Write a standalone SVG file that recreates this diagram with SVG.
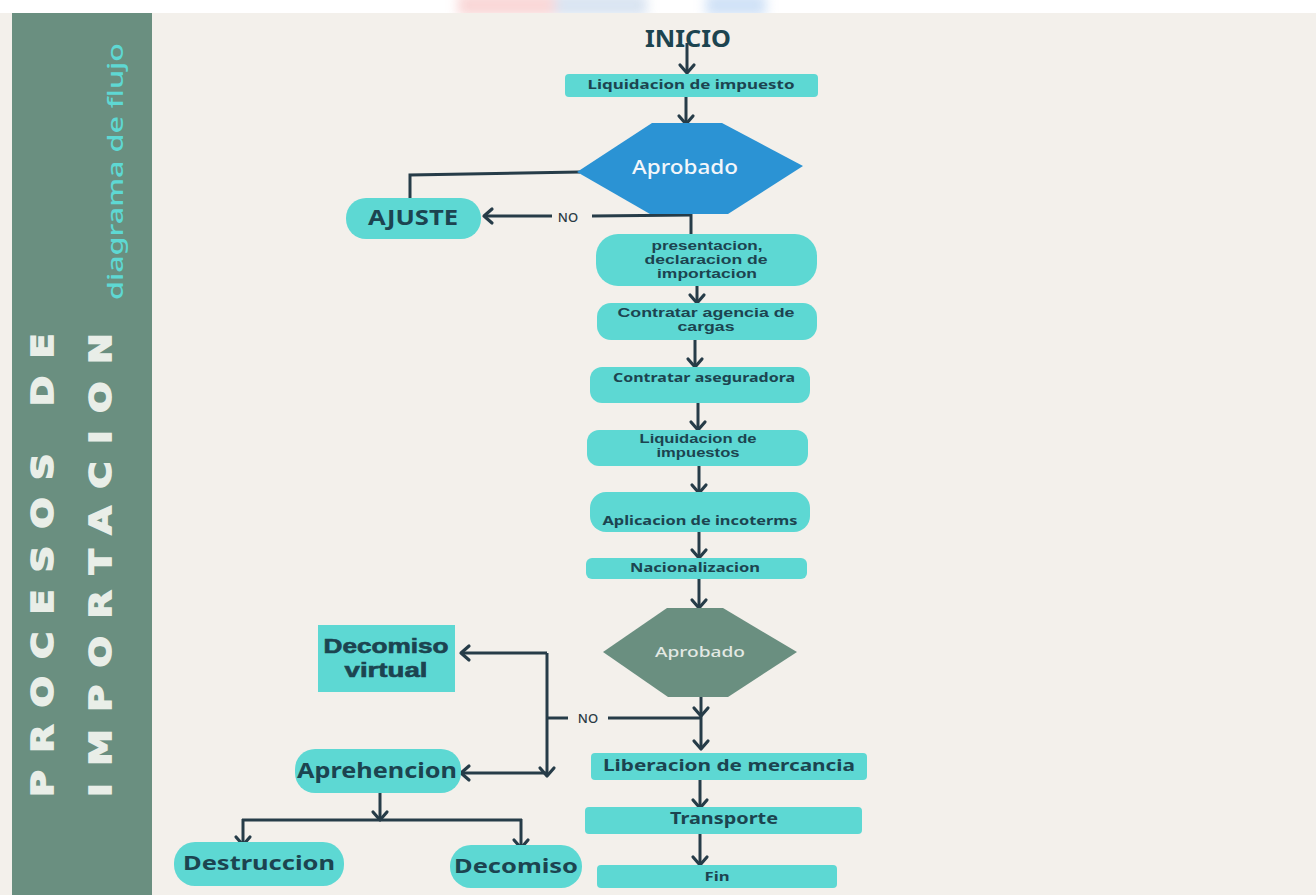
<svg xmlns="http://www.w3.org/2000/svg" width="1316" height="895" viewBox="0 0 1316 895">
<defs>
<style>
.box{fill:#5dd8d3}
.t{font-family:"Noto Sans","Open Sans",sans-serif;font-weight:700;fill:#1c4450;text-anchor:middle}
.s{font-family:"Liberation Sans",Arial,sans-serif;font-weight:700;fill:#1c4450;text-anchor:middle;font-size:12px}
.c{fill:none;stroke:#263c48;stroke-width:3}
.side{font-family:"DejaVu Sans","Noto Sans",sans-serif;font-weight:700;fill:#e9eee8;stroke:#e9eee8;stroke-width:1.6}
</style>
<marker id="ah" markerUnits="userSpaceOnUse" markerWidth="20" markerHeight="20" viewBox="0 0 20 20" refX="14" refY="10" orient="auto">
<path d="M6,3 L14,10 L6,17" fill="none" stroke="#263c48" stroke-width="3.2" stroke-linecap="round" stroke-linejoin="round"/>
</marker>
<filter id="blur"><feGaussianBlur stdDeviation="6"/></filter>
</defs>
<rect x="0" y="0" width="1316" height="895" fill="#ffffff"/>
<g filter="url(#blur)" opacity="0.55">
<rect x="458" y="-6" width="97" height="22" fill="#f4b5b5"/>
<rect x="555" y="-6" width="92" height="22" fill="#b9cde6"/>
<rect x="706" y="-6" width="60" height="22" fill="#a9c9f0"/>
</g>
<rect x="0" y="13" width="1316" height="882" fill="#f3f0eb"/>
<g id="sidebar">
<rect x="12" y="13" width="140" height="882" fill="#6a8f80"/>
<text class="side" transform="translate(53,797) rotate(-90) scale(1.22,1)" font-size="30" textLength="380" lengthAdjust="spacing">PROCESOS DE</text>
<text class="side" transform="translate(111,797) rotate(-90) scale(1.22,1)" font-size="30" textLength="380" lengthAdjust="spacing">IMPORTACION</text>
<text transform="translate(123,300) rotate(-90)" font-family="Noto Sans, Open Sans, sans-serif" font-weight="500" font-size="22" fill="#5ed8d3" textLength="257" lengthAdjust="spacingAndGlyphs">diagrama de flujo</text>
</g>
<g id="connectors">
<line class="c" x1="687" y1="43" x2="687" y2="73" marker-end="url(#ah)"/>
<line class="c" x1="686" y1="97" x2="686" y2="124" marker-end="url(#ah)"/>
<polyline class="c" points="580,172 410,175 410,198"/>
<line class="c" x1="692" y1="215" x2="592" y2="216"/>
<line class="c" x1="552" y1="216" x2="484" y2="216" marker-end="url(#ah)"/>
<line class="c" x1="691" y1="212" x2="691" y2="236"/>
<line class="c" x1="697" y1="285" x2="697" y2="303" marker-end="url(#ah)"/>
<line class="c" x1="695" y1="340" x2="695" y2="367" marker-end="url(#ah)"/>
<line class="c" x1="698" y1="403" x2="698" y2="430" marker-end="url(#ah)"/>
<line class="c" x1="699" y1="466" x2="699" y2="493" marker-end="url(#ah)"/>
<line class="c" x1="699" y1="532" x2="699" y2="558" marker-end="url(#ah)"/>
<line class="c" x1="699" y1="579" x2="699" y2="608" marker-end="url(#ah)"/>
<line class="c" x1="701" y1="688" x2="701" y2="716" marker-end="url(#ah)"/>
<line class="c" x1="701" y1="716" x2="701" y2="749" marker-end="url(#ah)"/>
<line class="c" x1="701" y1="718" x2="608" y2="718"/>
<line class="c" x1="568" y1="718" x2="547" y2="718"/>
<line class="c" x1="547" y1="653" x2="547" y2="776" marker-end="url(#ah)"/>
<line class="c" x1="547" y1="653" x2="461" y2="653" marker-end="url(#ah)"/>
<line class="c" x1="547" y1="773" x2="461" y2="773" marker-end="url(#ah)"/>
<line class="c" x1="380" y1="793" x2="380" y2="820" marker-end="url(#ah)"/>
<line class="c" x1="242" y1="820" x2="522" y2="820"/>
<line class="c" x1="243" y1="819" x2="243" y2="845" marker-end="url(#ah)"/>
<line class="c" x1="521" y1="819" x2="521" y2="848" marker-end="url(#ah)"/>
<line class="c" x1="700" y1="780" x2="700" y2="808" marker-end="url(#ah)"/>
<line class="c" x1="700" y1="834" x2="700" y2="865" marker-end="url(#ah)"/>
<text x="568" y="222" font-family="Noto Sans, Open Sans, sans-serif" font-size="13" font-weight="500" fill="#2a3a44" text-anchor="middle">NO</text>
<text x="588" y="723" font-family="Noto Sans, Open Sans, sans-serif" font-size="13" font-weight="500" fill="#2a3a44" text-anchor="middle">NO</text>
</g>
<g id="inicio">
<text class="t" x="688" y="47" font-size="24" font-weight="800" fill="#1e3444" textLength="86" lengthAdjust="spacingAndGlyphs">INICIO</text>
</g>
<g id="liquidacion-impuesto">
<rect class="box" x="565" y="74" width="253" height="23" rx="4"/>
<text class="t" x="691" y="89" font-size="13" textLength="207" lengthAdjust="spacingAndGlyphs">Liquidacion de impuesto</text>
</g>
<g id="aprobado-1">
<polygon points="577,172 652,123 722,123 803,166 728,214 650,214" fill="#2b93d4"/>
<text x="685" y="174" font-family="Noto Sans, Open Sans, sans-serif" font-size="19" font-weight="500" fill="#f2f6fa" text-anchor="middle" textLength="106" lengthAdjust="spacingAndGlyphs">Aprobado</text>
</g>
<g id="ajuste">
<rect class="box" x="346" y="198" width="135" height="41" rx="20"/>
<text class="t" x="413" y="225" font-size="21" font-weight="800" textLength="90" lengthAdjust="spacingAndGlyphs">AJUSTE</text>
</g>
<g id="presentacion">
<rect class="box" x="596" y="234" width="221" height="52" rx="22"/>
<text class="s" x="707" y="250" textLength="111" lengthAdjust="spacingAndGlyphs">presentacion,</text>
<text class="s" x="706" y="264" textLength="123" lengthAdjust="spacingAndGlyphs">declaracion de</text>
<text class="s" x="707" y="278" textLength="100" lengthAdjust="spacingAndGlyphs">importacion</text>
</g>
<g id="agencia">
<rect class="box" x="597" y="303" width="220" height="37" rx="14"/>
<text class="s" x="706" y="317" textLength="177" lengthAdjust="spacingAndGlyphs">Contratar agencia de</text>
<text class="s" x="706" y="331" textLength="57" lengthAdjust="spacingAndGlyphs">cargas</text>
</g>
<g id="aseguradora">
<rect class="box" x="590" y="367" width="220" height="36" rx="12"/>
<text class="t" x="704" y="382" font-size="13" textLength="182" lengthAdjust="spacingAndGlyphs">Contratar aseguradora</text>
</g>
<g id="liquidacion-impuestos">
<rect class="box" x="587" y="430" width="221" height="36" rx="12"/>
<text class="s" x="698" y="443" font-weight="400" textLength="117" lengthAdjust="spacingAndGlyphs">Liquidacion de</text>
<text class="s" x="698" y="457" font-weight="400" textLength="83" lengthAdjust="spacingAndGlyphs">impuestos</text>
</g>
<g id="incoterms">
<rect class="box" x="590" y="492" width="220" height="40" rx="16"/>
<text class="t" x="700" y="525" font-size="13" font-weight="600" textLength="195" lengthAdjust="spacingAndGlyphs">Aplicacion de incoterms</text>
</g>
<g id="nacionalizacion">
<rect class="box" x="586" y="558" width="221" height="21" rx="6"/>
<text class="t" x="695" y="572" font-size="13" textLength="130" lengthAdjust="spacingAndGlyphs">Nacionalizacion</text>
</g>
<g id="aprobado-2">
<polygon points="603,652 667,608 723,608 797,652 728,697 668,697" fill="#6a8f80"/>
<text x="700" y="657" font-family="Noto Sans, Open Sans, sans-serif" font-size="15" font-weight="500" fill="#e3e9e4" text-anchor="middle" textLength="90" lengthAdjust="spacingAndGlyphs">Aprobado</text>
</g>
<g id="decomiso-virtual">
<rect class="box" x="318" y="625" width="137" height="67" rx="0"/>
<text class="s" x="386" y="653" stroke="#1c4450" stroke-width="0.6" textLength="125" lengthAdjust="spacingAndGlyphs" style="font-size:20px">Decomiso</text>
<text class="s" x="386" y="677" stroke="#1c4450" stroke-width="0.6" textLength="83" lengthAdjust="spacingAndGlyphs" style="font-size:20px">virtual</text>
</g>
<g id="aprehencion">
<rect class="box" x="295" y="749" width="166" height="44" rx="20"/>
<text class="t" x="377" y="778" font-size="21" font-weight="800" textLength="160" lengthAdjust="spacingAndGlyphs">Aprehencion</text>
</g>
<g id="destruccion">
<rect class="box" x="174" y="842" width="170" height="44" rx="21"/>
<text class="t" x="259" y="870" font-size="20" font-weight="800" textLength="152" lengthAdjust="spacingAndGlyphs">Destruccion</text>
</g>
<g id="decomiso">
<rect class="box" x="450" y="845" width="132" height="43" rx="21"/>
<text class="t" x="516" y="873" font-size="20" font-weight="800" textLength="124" lengthAdjust="spacingAndGlyphs">Decomiso</text>
</g>
<g id="liberacion">
<rect class="box" x="591" y="753" width="276" height="27" rx="4"/>
<text class="t" x="729" y="771" font-size="16" textLength="252" lengthAdjust="spacingAndGlyphs">Liberacion de mercancia</text>
</g>
<g id="transporte">
<rect class="box" x="585" y="807" width="277" height="27" rx="4"/>
<text class="t" x="724" y="824" font-size="16" textLength="108" lengthAdjust="spacingAndGlyphs">Transporte</text>
</g>
<g id="fin">
<rect class="box" x="597" y="865" width="240" height="23" rx="4"/>
<text class="t" x="717" y="881" font-size="13" textLength="25" lengthAdjust="spacingAndGlyphs">Fin</text>
</g>
</svg>
